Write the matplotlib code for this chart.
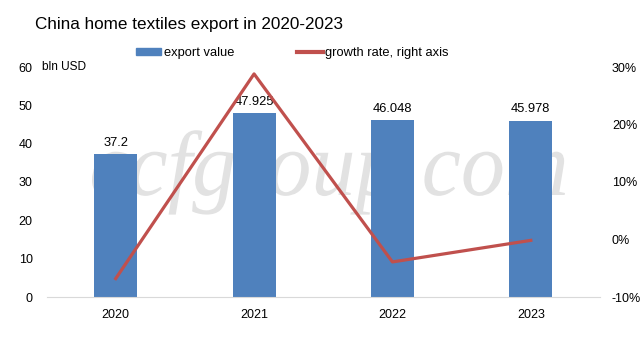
import matplotlib.pyplot as plt
from matplotlib.patches import Patch, PathPatch
from matplotlib.lines import Line2D
from matplotlib.textpath import TextPath
from matplotlib.font_manager import FontProperties
from matplotlib.transforms import Affine2D, IdentityTransform

plt.rcParams['font.family'] = ['Liberation Sans', 'DejaVu Sans']

years = ['2020', '2021', '2022', '2023']
export_value = [37.2, 47.925, 46.048, 45.978]
value_labels = ['37.2', '47.925', '46.048', '45.978']
growth_rate = [-6.8, 28.8, -3.9, -0.15]

W, H = 643, 341
fig = plt.figure(figsize=(W / 100, H / 100), dpi=100)
ax = fig.add_axes([46.5 / W, 44 / H, 553.5 / W, 230 / H])
ax2 = ax.twinx()

x = range(len(years))
bar_color = '#4F81BD'
line_color = '#C0504D'

# watermark, squeezed to fit the area it covers in the original
tp = TextPath((0, 0), 'ccfgroup.com', size=100,
              prop=FontProperties(family='Liberation Serif', style='italic'))
bb = tp.get_extents()
sx = 473 / bb.width
sy = 0.92
trans = Affine2D().scale(sx, sy).translate(92 - bb.x0 * sx, H - 195) + IdentityTransform()
wm = PathPatch(tp, facecolor='#e2e2e2', edgecolor='none', transform=trans, zorder=-1)
fig.add_artist(wm)

ax.bar(x, export_value, width=0.31, color=bar_color, zorder=2)
for i, v in enumerate(export_value):
    ax.annotate(value_labels[i], (i, v), xytext=(0, 4), textcoords='offset points',
                ha='center', va='bottom', fontsize=9.3)

ax2.plot(x, growth_rate, color=line_color, linewidth=2.3)

ax.set_xlim(-0.5, 3.5)
ax.set_ylim(0, 60)
ax.set_yticks(range(0, 61, 10))
ax2.set_ylim(-10, 30)
ax2.set_yticks(range(-10, 31, 10))
ax2.set_yticklabels([f'{t}%' for t in range(-10, 31, 10)])
ax.set_xticks(list(x))
ax.set_xticklabels(years)

for a in (ax, ax2):
    a.patch.set_visible(False)
    for s in a.spines.values():
        s.set_visible(False)
    a.tick_params(length=0, labelsize=9)
ax.spines['bottom'].set_visible(True)
ax.spines['bottom'].set_color('#d9d9d9')
ax.tick_params(axis='x', pad=8.5)
ax.tick_params(axis='y', pad=10)
ax2.tick_params(axis='y', pad=8.6)

fig.text(42 / W, 1 - 67 / H, 'bln USD', fontsize=8.6, va='center')

fig.text(35 / W, 1 - 25 / H, 'China home textiles export in 2020-2023', fontsize=12.3,
         va='center')

handles = [Patch(color=bar_color), Line2D([0], [0], color=line_color, linewidth=3)]
fig.legend(handles, ['export value', 'growth rate, right axis'], loc='center left',
           bbox_to_anchor=(136 / W, 1 - 53 / H), ncol=2, frameon=False, fontsize=9.3,
           borderpad=0, borderaxespad=0, handlelength=1.95, handleheight=0.55,
           handletextpad=0.2, columnspacing=4.9)

fig.savefig('out.png', dpi=100)
